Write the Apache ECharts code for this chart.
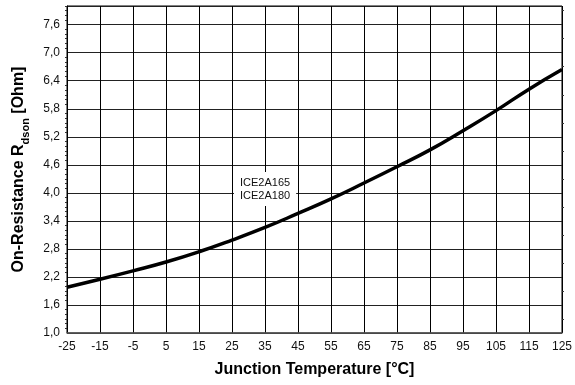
<!DOCTYPE html>
<html>
<head>
<meta charset="utf-8">
<script src="https://cdn.jsdelivr.net/npm/echarts@6/dist/echarts.min.js"></script>
<style>html,body{margin:0;padding:0;background:#fff}#c{width:575px;height:385px}</style>
</head>
<body>
<div id="c"></div>
<script>
const temperatures = [-25, -15, -5, 5, 15, 25, 35, 45, 55, 65, 75, 85, 95, 105, 115, 125];
const rdson = [1.98, 2.15, 2.33, 2.52, 2.74, 2.99, 3.26, 3.56, 3.87, 4.21, 4.56, 4.92, 5.33, 5.76, 6.22, 6.64];
const deviceLabels = ['ICE2A165', 'ICE2A180'];
const xTitle = 'Junction Temperature [°C]';

const chart = echarts.init(document.getElementById('c'), null, {renderer: 'canvas'});
const fmt = v => v.toFixed(1).replace('.', ',');
const font = 'Arial, "Liberation Sans", sans-serif';
chart.setOption({
  animation: false,
  backgroundColor: '#fff',
  grid: {left: 67, right: 13, top: 6, bottom: 52, show: true, borderColor: '#000', borderWidth: 1},
  xAxis: {
    type: 'value', min: -25, max: 125, interval: 10,
    name: xTitle, nameLocation: 'middle', nameGap: 29,
    nameTextStyle: {fontFamily: font, fontWeight: 'bold', fontSize: 16, color: '#000'},
    axisLine: {show: true, onZero: false, lineStyle: {color: '#555', width: 1.5}},
    axisTick: {show: false},
    axisLabel: {fontFamily: font, fontSize: 12, color: '#111', margin: 8},
    splitLine: {show: true, lineStyle: {color: '#000', width: 1}}
  },
  yAxis: [{
    type: 'value', min: 1.0, max: 8.0, interval: 0.6, position: 'left',
    name: '{a|On-Resistance R}{b|dson}{a| [Ohm]}', nameLocation: 'middle', nameGap: 40,
    nameTextStyle: {
      fontFamily: font, fontWeight: 'bold', fontSize: 16, color: '#000',
      rich: {
        a: {fontFamily: font, fontWeight: 'bold', fontSize: 16, color: '#000'},
        b: {fontFamily: font, fontWeight: 'bold', fontSize: 11, color: '#000', verticalAlign: 'bottom', padding: [0, 0, -4, 0]}
      }
    },
    axisLine: {show: true, onZero: false, lineStyle: {color: '#000'}},
    axisTick: {show: false},
    minorTick: {show: true, splitNumber: 6, length: 2, lineStyle: {color: '#333'}},
    axisLabel: {fontFamily: font, fontSize: 12, color: '#111', margin: 7, formatter: fmt, showMaxLabel: false},
    splitLine: {show: true, lineStyle: {color: '#222', width: 1}}
  }, {
    type: 'value', min: 1.0, max: 8.0, interval: 0.6, position: 'right',
    axisLine: {show: false, onZero: false}, axisTick: {show: false}, axisLabel: {show: false},
    minorTick: {show: true, splitNumber: 2, length: 2, lineStyle: {color: '#333'}},
    splitLine: {show: false}
  }],
  graphic: [{
    type: 'text', left: 234, top: 172,
    style: {
      text: deviceLabels.join('\n'), fontFamily: font, fontSize: 11, lineHeight: 13, fill: '#111',
      backgroundColor: '#fff', padding: [4, 6, 4, 6], align: 'left'
    },
    z: 10
  }],
  series: [{
    type: 'line', smooth: true, showSymbol: false,
    data: temperatures.map((t, i) => [t, rdson[i]]),
    lineStyle: {color: '#000', width: 3.5},
    z: 5
  }]
});
</script>
</body>
</html>
